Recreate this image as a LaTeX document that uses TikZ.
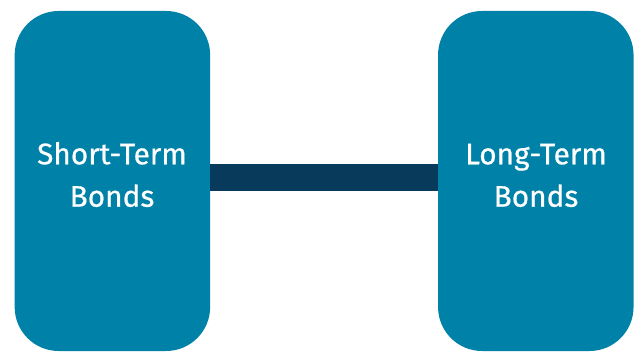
\documentclass[tikz,border=0pt]{standalone}
\usepackage{fontspec}
\setmainfont{Fira Sans}
\newfontfamily\labelfont[FakeBold=0.6]{Fira Sans}
\definecolor{boxteal}{RGB}{0,129,167}
\definecolor{barnavy}{RGB}{8,58,91}
\begin{document}
\begin{tikzpicture}[x=1pt,y=1pt,
  bondbox/.style={rectangle, rounded corners=44pt, fill=boxteal, draw=none,
    minimum width=195.5pt, minimum height=340pt, inner sep=0pt},
  bondlabel/.style={text=white, align=center, anchor=base, inner sep=0pt,
    font=\labelfont\fontsize{29.8}{42.4}\selectfont},
  link/.style={draw=barnavy, line width=27pt}]
  \useasboundingbox (0,0) rectangle (635,351);
  % two rounded blocks
  \node[bondbox] (short) at (112.4,170) {};
  \node[bondbox] (long) at (535.8,170) {};
  % connecting bar
  \draw[link] ([yshift=3.7pt]short.east) -- ([yshift=3.7pt]long.west);
  % labels (anchored on the baseline of the last line)
  \node[bondlabel] (shortlbl) at (112,144.3) {Short-Term\\Bonds};
  \node[bondlabel] (longlbl) at (536,144.3) {Long-Term\\Bonds};
\end{tikzpicture}
\end{document}
